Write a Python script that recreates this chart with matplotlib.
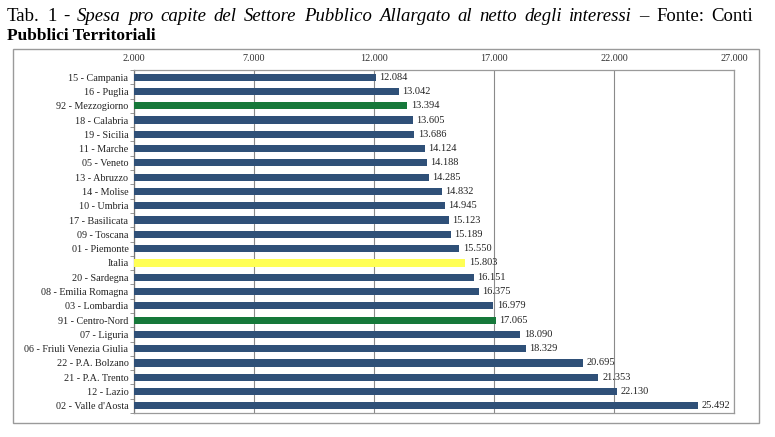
import numpy as np
import matplotlib.pyplot as plt
from matplotlib.patches import Rectangle
from matplotlib.ticker import FuncFormatter, FixedLocator

# Spesa pro capite (euro), dall'alto verso il basso
regioni = [
    "15 - Campania", "16 - Puglia", "92 - Mezzogiorno", "18 - Calabria",
    "19 - Sicilia", "11 - Marche", "05 - Veneto", "13 - Abruzzo",
    "14 - Molise", "10 - Umbria", "17 - Basilicata", "09 - Toscana",
    "01 - Piemonte", "Italia", "20 - Sardegna", "08 - Emilia Romagna",
    "03 - Lombardia", "91 - Centro-Nord", "07 - Liguria",
    "06 - Friuli Venezia Giulia", "22 - P.A. Bolzano", "21 - P.A. Trento",
    "12 - Lazio", "02 - Valle d'Aosta",
]
spesa = [
    12084, 13042, 13394, 13605, 13686, 14124, 14188, 14285, 14832, 14945,
    15123, 15189, 15550, 15803, 16151, 16375, 16979, 17065, 18090, 18329,
    20695, 21353, 22130, 25492,
]
ticks_x = [2000, 7000, 12000, 17000, 22000, 27000]

blu = "#2f5078"
verde = "#16783a"
giallo = "#ffff55"
colori = []
for r in regioni:
    if r == "Italia":
        colori.append(giallo)
    elif r.startswith("92") or r.startswith("91"):
        colori.append(verde)
    else:
        colori.append(blu)

serif = "Liberation Serif"
plt.rcParams["font.family"] = serif

def punti(v):
    return f"{int(v):,}".replace(",", ".")

fig = plt.figure(figsize=(7.75, 4.37), dpi=100)

# cornice del grafico
fig.patches.append(Rectangle((13 / 775, 1 - 423 / 437), 746 / 775, 374 / 437,
                             transform=fig.transFigure, fill=False,
                             edgecolor="#9a9a9a", linewidth=1.0))

ax = fig.add_axes([134 / 775, 1 - 413 / 437, 600 / 775, 343 / 437])
y = np.arange(len(regioni))
ax.barh(y, spesa, height=0.5, color=colori, zorder=3)
ax.set_ylim(len(regioni) - 0.5, -0.5)
ax.set_xlim(ticks_x[0], ticks_x[-1])

for yi, v in zip(y, spesa):
    ax.text(v + 150, yi, punti(v), va="center", ha="left",
            fontsize=7.5, color="#222222", zorder=4)

ax.set_yticks(y)
ax.set_yticklabels(regioni, fontsize=7.3, color="#222222")
ax.tick_params(axis="y", which="major", length=0, pad=4)
ax.yaxis.set_minor_locator(FixedLocator(np.arange(-0.5, len(regioni), 1)))
ax.tick_params(axis="y", which="minor", length=3, color="#888888")

ax.xaxis.tick_top()
ax.set_xticks(ticks_x)
ax.xaxis.set_major_formatter(FuncFormatter(lambda v, p: punti(v)))
ax.tick_params(axis="x", length=0, pad=5, labelsize=7.3, labelcolor="#333333")
ax.grid(axis="x", color="#8a8a8a", linewidth=0.8, zorder=0)
for s in ax.spines.values():
    s.set_color("#9a9a9a")
    s.set_linewidth(0.9)
ax.spines["left"].set_color("#777777")

# titolo giustificato: parole normali e in corsivo
r = fig.canvas.get_renderer()
parole = [("Tab.", "normal"), ("1", "normal"), ("-", "normal")]
parole += [(w, "italic") for w in
           "Spesa pro capite del Settore Pubblico Allargato al netto degli interessi".split()]
parole += [("\u2013", "normal"), ("Fonte:", "normal"), ("Conti", "normal")]
testi = []
larghezza = 0
for w, stile in parole:
    t = fig.text(0, 1 - 21 / 437, w, fontsize=13.5, style=stile,
                 family=serif, va="baseline", ha="left")
    testi.append(t)
    larghezza += t.get_window_extent(renderer=r).width
x_sin, x_des = 7, 753
gap = (x_des - x_sin - larghezza) / (len(parole) - 1)
x0 = x_sin
for t in testi:
    t.set_x(x0 / 775)
    x0 += t.get_window_extent(renderer=r).width + gap
fig.text(7 / 775, 1 - 40 / 437, "Pubblici Territoriali", fontsize=12.5,
         weight="bold", family=serif, va="baseline", ha="left")

fig.savefig("out.png", dpi=100)
